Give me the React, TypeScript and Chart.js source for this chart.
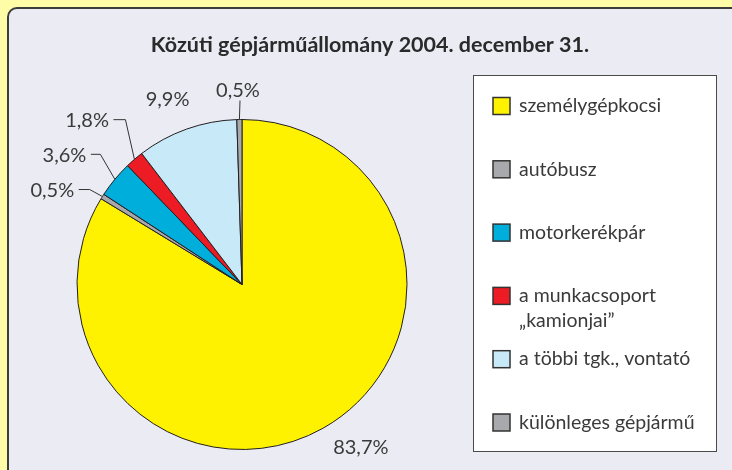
import React, { useEffect, useRef } from "react";
import { Chart, registerables } from "chart.js";

Chart.register(...registerables);

const TITLE = "Közúti gépjárműállomány 2004. december 31.";
const CATEGORIES: string[][] = [
  ["személygépkocsi"],
  ["autóbusz"],
  ["motorkerékpár"],
  ["a munkacsoport", "„kamionjai”"],
  ["a többi tgk., vontató"],
  ["különleges gépjármű"],
];
const SHARES = [83.7, 0.5, 3.6, 1.8, 9.9, 0.5];
const VALUE_LABELS = ["83,7%", "0,5%", "3,6%", "1,8%", "9,9%", "0,5%"];
const COLORS = ["#FFF200", "#A7A9AC", "#00AEDB", "#ED1C24", "#C8E9F8", "#A7A9AC"];

// label placement relative to each slice's outer mid-point
type Place = { elbow?: [number, number]; tail?: number; vertical?: boolean; offset?: [number, number] };
const PLACES: Place[] = [
  { offset: [38, 19] },
  { elbow: [-12.7, -7], tail: 11 },
  { elbow: [-14.5, -25], tail: 9.5 },
  { elbow: [-9, -39.7], tail: 12 },
  { offset: [-19, -29.6] },
  { elbow: [0.6, -19], vertical: true },
];

const FONT = "Lato, 'DejaVu Sans', sans-serif";
const TEXT = "#3a3a3a";

const framePlugin = {
  id: "frame",
  beforeDraw(chart: any) {
    const ctx = chart.ctx as CanvasRenderingContext2D;
    const W = chart.width, H = chart.height;
    ctx.save();
    ctx.fillStyle = "#FFFCA8";
    ctx.fillRect(0, 0, W, H);
    // panel
    const x0 = 8, y0 = 8, r = 9;
    ctx.beginPath();
    ctx.moveTo(x0, H + 5);
    ctx.lineTo(x0, y0 + r);
    ctx.arcTo(x0, y0, x0 + r, y0, r);
    ctx.lineTo(W + 5, y0);
    ctx.lineTo(W + 5, H + 5);
    ctx.closePath();
    ctx.fillStyle = "#EBEBF4";
    ctx.fill();
    ctx.lineWidth = 2;
    ctx.strokeStyle = "#3c3c3c";
    ctx.stroke();
    // title
    ctx.fillStyle = "#2a2a2a";
    ctx.font = `bold 21.5px ${FONT}`;
    ctx.textAlign = "center";
    ctx.textBaseline = "middle";
    ctx.fillText(TITLE, 370, 45);
    // legend box
    const bx = 473.5, by = 75.5, bw = 243, bh = 376;
    ctx.fillStyle = "#ffffff";
    ctx.fillRect(bx, by, bw, bh);
    ctx.lineWidth = 1;
    ctx.strokeStyle = "#4a4a4a";
    ctx.strokeRect(bx, by, bw, bh);
    const step = 63.3;
    ctx.font = `19.5px ${FONT}`;
    ctx.textAlign = "left";
    CATEGORIES.forEach((lines, i) => {
      const cy = by + 30.5 + i * step;
      ctx.fillStyle = COLORS[i];
      ctx.fillRect(493, cy - 8.5, 17, 17);
      ctx.lineWidth = 1.5;
      ctx.strokeStyle = "#333333";
      ctx.strokeRect(493, cy - 8.5, 17, 17);
      ctx.fillStyle = TEXT;
      lines.forEach((ln, j) => ctx.fillText(ln, 519, cy + j * 25));
    });
    ctx.restore();
  },
};

const labelPlugin = {
  id: "sliceLabels",
  afterDatasetsDraw(chart: any) {
    const ctx = chart.ctx as CanvasRenderingContext2D;
    const meta = chart.getDatasetMeta(0);
    ctx.save();
    ctx.font = `20px ${FONT}`;
    ctx.fillStyle = TEXT;
    ctx.strokeStyle = "#333333";
    ctx.lineWidth = 1;
    meta.data.forEach((arc: any, i: number) => {
      const { x, y, startAngle, endAngle, outerRadius } = arc.getProps(
        ["x", "y", "startAngle", "endAngle", "outerRadius"], true);
      const a = (startAngle + endAngle) / 2;
      const px = x + Math.cos(a) * outerRadius;
      const py = y + Math.sin(a) * outerRadius;
      const p = PLACES[i];
      if (p.offset) {
        ctx.textAlign = "center";
        ctx.textBaseline = "middle";
        ctx.fillText(VALUE_LABELS[i], px + p.offset[0], py + p.offset[1]);
        return;
      }
      const ex = px + p.elbow![0], ey = py + p.elbow![1];
      ctx.beginPath();
      ctx.moveTo(px, py);
      ctx.lineTo(ex, ey);
      if (p.vertical) {
        ctx.stroke();
        ctx.textAlign = "center";
        ctx.textBaseline = "alphabetic";
        ctx.fillText(VALUE_LABELS[i], ex - 2, ey - 4);
      } else {
        const tx = ex - p.tail!;
        ctx.lineTo(tx, ey);
        ctx.stroke();
        ctx.textAlign = "right";
        ctx.textBaseline = "middle";
        ctx.fillText(VALUE_LABELS[i], tx - 4.5, ey + 1);
      }
    });
    ctx.restore();
  },
};

export default function App() {
  const ref = useRef<HTMLCanvasElement>(null);
  useEffect(() => {
    const chart = new Chart(ref.current!, {
      type: "pie",
      data: {
        labels: CATEGORIES.map((l) => l.join(" ")),
        datasets: [
          {
            data: SHARES,
            backgroundColor: COLORS,
            borderColor: "#231F20",
            borderWidth: 1,
            hoverOffset: 0,
          },
        ],
      },
      options: {
        responsive: false,
        animation: false,
        devicePixelRatio: 1,
        events: [],
        layout: { padding: { left: 76.5, right: 324.5, top: 119, bottom: 20 } },
        plugins: {
          legend: { display: false },
          title: { display: false },
          tooltip: { enabled: false },
        },
      },
      plugins: [framePlugin, labelPlugin],
    });
    return () => chart.destroy();
  }, []);
  return (
    <div style={{ position: "absolute", left: 0, top: 0, width: 732, height: 470 }}>
      <canvas ref={ref} width={732} height={470} style={{ display: "block" }} />
    </div>
  );
}
